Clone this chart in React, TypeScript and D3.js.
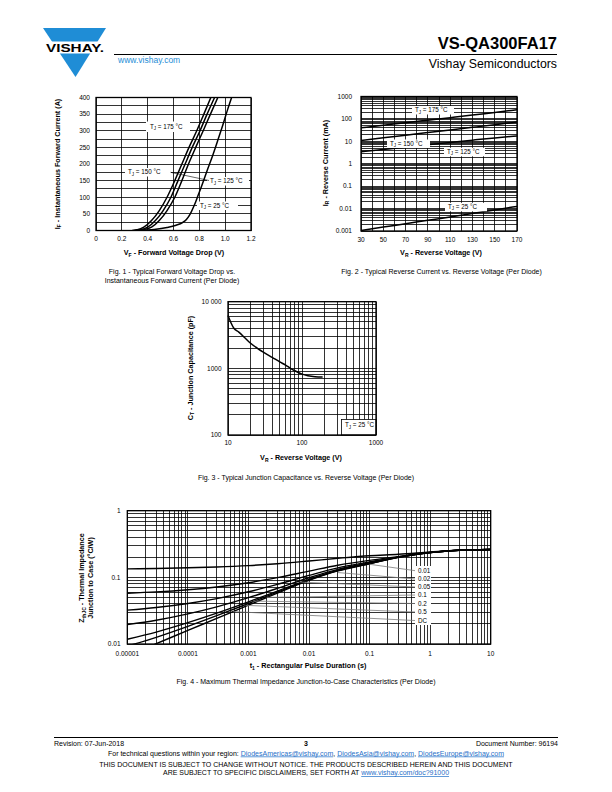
import React from "react";
import * as d3 from "d3";

const F = "'Liberation Sans', Arial, Helvetica, sans-serif";
const BLUE = "#1f8dd6";

// ---------- Fig. 1 data (forward characteristics) ----------
const fig1Current = [0, 2, 10, 30, 60, 100, 150, 200, 250, 300, 350, 400];
const fig1Vf175 = [0.28, 0.32, 0.37, 0.43, 0.49, 0.55, 0.61, 0.665, 0.72, 0.78, 0.835, 0.889];
const fig1Vf150 = [0.3, 0.34, 0.4, 0.46, 0.52, 0.58, 0.635, 0.69, 0.745, 0.805, 0.86, 0.918];
const fig1Vf125 = [0.31, 0.36, 0.43, 0.49, 0.55, 0.61, 0.665, 0.716, 0.772, 0.83, 0.886, 0.943];
const fig1Vf25 = [0.33, 0.45, 0.55, 0.62, 0.67, 0.7, 0.73, 0.76, 0.79, 0.82, 0.86, 0.9, 0.94, 0.98, 1.02, 1.05];
const fig1If25 = [0, 3, 9, 16, 24, 33, 50, 75, 105, 136, 180, 222, 268, 315, 365, 400];
const fig1XTicks = [0, 0.2, 0.4, 0.6, 0.8, 1.0, 1.2];
const fig1XLabels = ["0", "0.2", "0.4", "0.6", "0.8", "1.0", "1.2"];
const fig1YTicks = [0, 50, 100, 150, 200, 250, 300, 350, 400];

// ---------- Fig. 2 data (reverse current) ----------
const fig2Vr = [30, 50, 70, 90, 110, 130, 150, 170];
const fig2Ir175 = [40, 52, 68, 88, 114, 148, 195, 255];
const fig2Ir150 = [11, 14.3, 18.8, 24.5, 32, 42, 55, 72];
const fig2Ir125 = [3.4, 4.3, 5.5, 7.0, 8.9, 11.3, 14.2, 17.5];
const fig2Ir25 = [0.00105, 0.0015, 0.0021, 0.003, 0.0042, 0.006, 0.0087, 0.0125];
const fig2XTicks = [30, 50, 70, 90, 110, 130, 150, 170];
const fig2YTicks = [0.001, 0.01, 0.1, 1, 10, 100, 1000];
const fig2YLabels = ["0.001", "0.01", "0.1", "1", "10", "100", "1000"];

// ---------- Fig. 3 data (junction capacitance) ----------
const fig3Vr = [10, 11, 12, 14, 17, 20, 25, 30, 40, 50, 60, 70, 80, 100, 120, 150, 190];
const fig3Ct = [6200, 4800, 4000, 3500, 2850, 2400, 2000, 1750, 1450, 1250, 1120, 1000, 920, 820, 775, 748, 740];
const fig3XTicks = [10, 100, 1000];
const fig3XLabels = ["10", "100", "1000"];
const fig3YTicks = [100, 1000, 10000];
const fig3YLabels = ["100", "1000", "10 000"];

// ---------- Fig. 4 data (thermal impedance) ----------
const fig4T = [1e-5, 3e-5, 1e-4, 3e-4, 1e-3, 3e-3, 1e-2, 3e-2, 0.1, 0.3, 1, 3, 10];
const fig4D050 = [0.134, 0.136, 0.139, 0.143, 0.15, 0.16, 0.176, 0.193, 0.211, 0.222, 0.24, 0.256, 0.262];
const fig4D020 = [0.0578, 0.0605, 0.0652, 0.0718, 0.083, 0.099, 0.124, 0.152, 0.18, 0.205, 0.237, 0.256, 0.262];
const fig4D010 = [0.0322, 0.0353, 0.0406, 0.048, 0.0607, 0.0784, 0.107, 0.139, 0.17, 0.203, 0.236, 0.255, 0.262];
const fig4D005 = [0.0195, 0.0227, 0.0283, 0.0361, 0.0495, 0.0682, 0.0986, 0.132, 0.165, 0.201, 0.236, 0.255, 0.262];
const fig4D002 = [0.0118, 0.0151, 0.0209, 0.029, 0.0428, 0.0621, 0.0934, 0.128, 0.162, 0.201, 0.235, 0.255, 0.262];
const fig4D001 = [0.0093, 0.0126, 0.0184, 0.0266, 0.0405, 0.06, 0.0917, 0.126, 0.161, 0.2, 0.235, 0.255, 0.262];
const fig4DC = [0.0067, 0.0101, 0.016, 0.0242, 0.0383, 0.058, 0.09, 0.125, 0.16, 0.2, 0.235, 0.255, 0.262];
const fig4Labels = ["0.01", "0.02", "0.05", "0.1", "0.2", "0.5", "DC"];
const fig4LabelZ = [0.126, 0.0945, 0.0717, 0.0543, 0.0405, 0.0302, 0.0225];
const fig4LeaderT = [0.1, 0.03, 0.007, 0.002, 0.0012, 0.0009, 0.00056];
const fig4LeaderZ = [0.157, 0.118, 0.085, 0.05, 0.044, 0.038, 0.0306];
const fig4XTicks = [1e-5, 1e-4, 1e-3, 1e-2, 0.1, 1, 10];
const fig4XLabels = ["0.00001", "0.0001", "0.001", "0.01", "0.1", "1", "10"];
const fig4YTicks = [0.01, 0.1, 1];
const fig4YLabels = ["0.01", "0.1", "1"];

type Pt = [number, number];
const zip = (a: number[], b: number[]): Pt[] => a.map((v, i) => [v, b[i]] as Pt);

const GRID = 0.8;
const FRAME = 1.3;
const CURVE = 1.5;
const TICK = 6.5;

function TJ({ x, y, t }: { x: number; y: number; t: string }) {
  return (
    <text x={x} y={y} fontSize={6.3} fontFamily={F}>
      T<tspan fontSize={4.5} dy={1.4}>J</tspan>
      <tspan dy={-1.4}>{` = ${t} °C`}</tspan>
    </text>
  );
}

function GridH({ vals, y, x0, x1 }: { vals: number[]; y: (v: number) => number; x0: number; x1: number }) {
  return (
    <g shapeRendering="crispEdges">
      {vals.map((v, i) => (
        <line key={"h" + i} x1={x0} x2={x1} y1={y(v)} y2={y(v)} stroke="#000" strokeWidth={GRID} />
      ))}
    </g>
  );
}

function GridV({ vals, x, y0, y1 }: { vals: number[]; x: (v: number) => number; y0: number; y1: number }) {
  return (
    <g shapeRendering="crispEdges">
      {vals.map((v, i) => (
        <line key={"v" + i} x1={x(v)} x2={x(v)} y1={y0} y2={y1} stroke="#000" strokeWidth={GRID} />
      ))}
    </g>
  );
}

function Fig1() {
  const X0 = 96, X1 = 251, Y0 = 97.5, Y1 = 230.5;
  const x = d3.scaleLinear().domain([0, 1.2]).range([X0, X1]);
  const y = d3.scaleLinear().domain([0, 400]).range([Y1, Y0]);
  const line = d3.line<Pt>().x((d) => x(d[0])).y((d) => y(d[1])).curve(d3.curveMonotoneX);
  const hGrid = d3.range(0, 401, 25);
  const series = [
    zip(fig1Vf175, fig1Current),
    zip(fig1Vf150, fig1Current),
    zip(fig1Vf125, fig1Current),
    zip(fig1Vf25, fig1If25),
  ];
  return (
    <g>
      <defs>
        <clipPath id="clip1">
          <rect x={X0} y={Y0} width={X1 - X0} height={Y1 - Y0} />
        </clipPath>
      </defs>
      <GridH vals={hGrid} y={y} x0={X0} x1={X1} />
      <GridV vals={fig1XTicks} x={x} y0={Y0} y1={Y1} />
      <rect x={146} y={121.5} width={44} height={10.5} fill="#fff" />
      <rect x={125} y={168} width={46} height={8.5} fill="#fff" />
      <rect x={207} y={177} width={42} height={8.5} fill="#fff" />
      <rect x={197} y={201.5} width={41} height={8.5} fill="#fff" />
      <g clipPath="url(#clip1)">
        {series.map((s, i) => (
          <path key={i} d={line(s) || ""} fill="none" stroke="#000" strokeWidth={CURVE} />
        ))}
      </g>
      <line x1={170.5} y1={172.3} x2={209} y2={180.5} stroke="#000" strokeWidth={0.6} />
      <TJ x={150} y={129} t="175" />
      <TJ x={128} y={174.2} t="150" />
      <TJ x={210} y={183.3} t="125" />
      <TJ x={200} y={207.8} t="25" />
      <rect x={X0} y={Y0} width={X1 - X0} height={Y1 - Y0} fill="none" stroke="#000" strokeWidth={FRAME} />
      {fig1YTicks.map((v) => (
        <text key={"yl" + v} x={90} y={y(v) + 2.3} fontSize={TICK} fontFamily={F} textAnchor="end">
          {v}
        </text>
      ))}
      {fig1XTicks.map((v, i) => (
        <text key={"xl" + v} x={x(v)} y={240.5} fontSize={TICK} fontFamily={F} textAnchor="middle">
          {fig1XLabels[i]}
        </text>
      ))}
      <text x={174} y={255} fontSize={7.2} fontWeight="bold" fontFamily={F} textAnchor="middle">
        V<tspan fontSize={5} dy={1.5}>F</tspan>
        <tspan dy={-1.5}> - Forward Voltage Drop (V)</tspan>
      </text>
      <text transform="translate(59.5,164) rotate(-90)" fontSize={7.2} fontWeight="bold" fontFamily={F} textAnchor="middle">
        I<tspan fontSize={5} dy={1.5}>F</tspan>
        <tspan dy={-1.5}> - Instantaneous Forward Current (A)</tspan>
      </text>
      <text x={172} y={274} fontSize={7} fontFamily={F} textAnchor="middle">
        Fig. 1 - Typical Forward Voltage Drop vs.
      </text>
      <text x={172} y={283} fontSize={7} fontFamily={F} textAnchor="middle">
        Instantaneous Forward Current (Per Diode)
      </text>
    </g>
  );
}

function Fig2() {
  const X0 = 361, X1 = 517, Y0 = 96.5, Y1 = 231;
  const x = d3.scaleLinear().domain([30, 170]).range([X0, X1]);
  const y = d3.scaleLog().domain([0.001, 1000]).range([Y1, Y0]);
  const line = d3.line<Pt>().x((d) => x(d[0])).y((d) => y(d[1])).curve(d3.curveMonotoneX);
  const vGrid = d3.range(30, 171, 10);
  const hGrid = y.ticks();
  const series = [zip(fig2Vr, fig2Ir175), zip(fig2Vr, fig2Ir150), zip(fig2Vr, fig2Ir125), zip(fig2Vr, fig2Ir25)];
  return (
    <g>
      <defs>
        <clipPath id="clip2">
          <rect x={X0} y={Y0} width={X1 - X0} height={Y1 - Y0} />
        </clipPath>
      </defs>
      <GridH vals={hGrid} y={y} x0={X0} x1={X1} />
      <GridV vals={vGrid} x={x} y0={Y0} y1={Y1} />
      <g clipPath="url(#clip2)">
        {series.map((s, i) => (
          <path key={i} d={line(s) || ""} fill="none" stroke="#000" strokeWidth={CURVE} />
        ))}
      </g>
      <rect x={412} y={106} width={42} height={8.5} fill="#fff" />
      <rect x={387} y={139.5} width={43} height={8.5} fill="#fff" />
      <rect x={444} y={147.8} width={41} height={8.5} fill="#fff" />
      <rect x={445} y={202.8} width={42} height={8.5} fill="#fff" />
      <TJ x={415} y={112.3} t="175" />
      <TJ x={390} y={145.8} t="150" />
      <TJ x={447} y={154} t="125" />
      <TJ x={448} y={209} t="25" />
      <rect x={X0} y={Y0} width={X1 - X0} height={Y1 - Y0} fill="none" stroke="#000" strokeWidth={FRAME} />
      {fig2YTicks.map((v, i) => (
        <text key={"yl" + i} x={352} y={y(v) + 2.3} fontSize={TICK} fontFamily={F} textAnchor="end">
          {fig2YLabels[i]}
        </text>
      ))}
      {fig2XTicks.map((v) => (
        <text key={"xl" + v} x={x(v)} y={242} fontSize={TICK} fontFamily={F} textAnchor="middle">
          {v}
        </text>
      ))}
      <text x={441} y={255} fontSize={7.2} fontWeight="bold" fontFamily={F} textAnchor="middle">
        V<tspan fontSize={5} dy={1.5}>R</tspan>
        <tspan dy={-1.5}> - Reverse Voltage (V)</tspan>
      </text>
      <text transform="translate(327.5,163) rotate(-90)" fontSize={7.2} fontWeight="bold" fontFamily={F} textAnchor="middle">
        I<tspan fontSize={5} dy={1.5}>R</tspan>
        <tspan dy={-1.5}> - Reverse Current (mA)</tspan>
      </text>
      <text x={441.5} y={273.5} fontSize={7} fontFamily={F} textAnchor="middle">
        Fig. 2 - Typical Reverse Current vs. Reverse Voltage (Per Diode)
      </text>
    </g>
  );
}

function Fig3() {
  const X0 = 228, X1 = 376, Y0 = 301.7, Y1 = 435;
  const x = d3.scaleLog().domain([10, 1000]).range([X0, X1]);
  const y = d3.scaleLog().domain([100, 10000]).range([Y1, Y0]);
  const line = d3.line<Pt>().x((d) => x(d[0])).y((d) => y(d[1])).curve(d3.curveMonotoneX);
  const vGrid = x.ticks();
  const hGrid = y.ticks();
  return (
    <g>
      <GridH vals={hGrid} y={y} x0={X0} x1={X1} />
      <GridV vals={vGrid} x={x} y0={Y0} y1={Y1} />
      <path d={line(zip(fig3Vr, fig3Ct)) || ""} fill="none" stroke="#000" strokeWidth={CURVE} />
      <rect x={341.5} y={419.5} width={34.5} height={15.5} fill="#fff" stroke="#000" strokeWidth={0.8} />
      <TJ x={345} y={427.3} t="25" />
      <rect x={X0} y={Y0} width={X1 - X0} height={Y1 - Y0} fill="none" stroke="#000" strokeWidth={FRAME} />
      {fig3YTicks.map((v, i) => (
        <text key={"yl" + i} x={221.5} y={y(v) + 2.3} fontSize={TICK} fontFamily={F} textAnchor="end">
          {fig3YLabels[i]}
        </text>
      ))}
      {fig3XTicks.map((v, i) => (
        <text key={"xl" + i} x={x(v)} y={444.5} fontSize={TICK} fontFamily={F} textAnchor="middle">
          {fig3XLabels[i]}
        </text>
      ))}
      <text x={301} y={460} fontSize={7.2} fontWeight="bold" fontFamily={F} textAnchor="middle">
        V<tspan fontSize={5} dy={1.5}>R</tspan>
        <tspan dy={-1.5}> - Reverse Voltage (V)</tspan>
      </text>
      <text transform="translate(192.5,368) rotate(-90)" fontSize={7.2} fontWeight="bold" fontFamily={F} textAnchor="middle">
        C<tspan fontSize={5} dy={1.5}>T</tspan>
        <tspan dy={-1.5}> - Junction Capacitance (pF)</tspan>
      </text>
      <text x={306} y={479.5} fontSize={7} fontFamily={F} textAnchor="middle">
        Fig. 3 - Typical Junction Capacitance vs. Reverse Voltage (Per Diode)
      </text>
    </g>
  );
}

function Fig4() {
  const X0 = 127.3, X1 = 490.7, Y0 = 510.7, Y1 = 644;
  const x = d3.scaleLog().domain([1e-5, 10]).range([X0, X1]);
  const y = d3.scaleLog().domain([0.01, 1]).range([Y1, Y0]);
  const line = d3.line<Pt>().x((d) => x(d[0])).y((d) => y(d[1])).curve(d3.curveMonotoneX);
  const vGrid = x.ticks();
  const hGrid = y.ticks();
  const series = [fig4D050, fig4D020, fig4D010, fig4D005, fig4D002, fig4D001, fig4DC].map((s) => zip(fig4T, s));
  const labelX = 418;
  return (
    <g>
      <defs>
        <clipPath id="clip4">
          <rect x={X0} y={Y0} width={X1 - X0} height={Y1 - Y0} />
        </clipPath>
      </defs>
      <GridH vals={hGrid} y={y} x0={X0} x1={X1} />
      <GridV vals={vGrid} x={x} y0={Y0} y1={Y1} />
      <g clipPath="url(#clip4)">
        {series.map((s, i) => (
          <path key={i} d={line(s) || ""} fill="none" stroke="#000" strokeWidth={1.4} />
        ))}
      </g>
      {fig4Labels.map((l, i) => (
        <line
          key={"ld" + i}
          x1={x(fig4LeaderT[i])}
          y1={y(fig4LeaderZ[i])}
          x2={labelX - 3}
          y2={y(fig4LabelZ[i])}
          stroke="#7a7a7a"
          strokeWidth={0.8}
        />
      ))}
      <rect x={labelX - 3} y={566} width={16} height={59} fill="#fff" />
      {fig4Labels.map((l, i) => (
        <text key={"lb" + i} x={labelX} y={y(fig4LabelZ[i]) + 2.3} fontSize={6.3} fontFamily={F}>
          {l}
        </text>
      ))}
      <rect x={X0} y={Y0} width={X1 - X0} height={Y1 - Y0} fill="none" stroke="#000" strokeWidth={FRAME} />
      {fig4YTicks.map((v, i) => (
        <text key={"yl" + i} x={120.5} y={y(v) + 2.3} fontSize={TICK} fontFamily={F} textAnchor="end">
          {fig4YLabels[i]}
        </text>
      ))}
      {fig4XTicks.map((v, i) => (
        <text key={"xl" + i} x={x(v)} y={655.5} fontSize={TICK} fontFamily={F} textAnchor="middle">
          {fig4XLabels[i]}
        </text>
      ))}
      <text x={308} y={668} fontSize={7.2} fontWeight="bold" fontFamily={F} textAnchor="middle">
        t<tspan fontSize={5} dy={1.5}>1</tspan>
        <tspan dy={-1.5}> - Rectangular Pulse Duration (s)</tspan>
      </text>
      <text transform="translate(84,578) rotate(-90)" fontSize={7.2} fontWeight="bold" fontFamily={F} textAnchor="middle">
        Z<tspan fontSize={5} dy={1.5}>thJC</tspan>
        <tspan dy={-1.5}> - Thermal Impedance</tspan>
      </text>
      <text transform="translate(92.5,578) rotate(-90)" fontSize={7.2} fontWeight="bold" fontFamily={F} textAnchor="middle">
        Junction to Case (°C/W)
      </text>
      <text x={306} y={684} fontSize={7} fontFamily={F} textAnchor="middle">
        Fig. 4 - Maximum Thermal Impedance Junction-to-Case Characteristics (Per Diode)
      </text>
    </g>
  );
}

function Header() {
  return (
    <g>
      <polygon points="43,28 106,28 75.5,77" fill={BLUE} />
      <rect x={40} y={41.5} width={72} height={12} fill="#fff" />
      <text x={46} y={52.3} fontSize={11.5} fontWeight="bold" fontFamily={F} textLength={58} lengthAdjust="spacingAndGlyphs">
        VISHAY.
      </text>
      <text x={557} y={49} fontSize={16.5} fontWeight="bold" fontFamily={F} textAnchor="end">
        VS-QA300FA17
      </text>
      <line x1={114} x2={557} y1={54.5} y2={54.5} stroke="#000" strokeWidth={1} />
      <text x={118} y={62.5} fontSize={8.5} fontFamily={F} fill={BLUE}>
        www.vishay.com
      </text>
      <text x={557} y={68} fontSize={12.3} fontFamily={F} textAnchor="end">
        Vishay Semiconductors
      </text>
    </g>
  );
}

function Footer() {
  const link = { fill: "#1f6fc8", textDecoration: "underline" } as React.CSSProperties;
  return (
    <g fontFamily={F} fontSize={7}>
      <line x1={54} x2={558} y1={737.5} y2={737.5} stroke="#000" strokeWidth={1} />
      <text x={54} y={745.5}>Revision: 07-Jun-2018</text>
      <text x={306} y={746} textAnchor="middle" fontWeight="bold">
        3
      </text>
      <text x={558} y={745.5} textAnchor="end">
        Document Number: 96194
      </text>
      <text x={306} y={755.5} textAnchor="middle">
        For technical questions within your region: <tspan style={link}>DiodesAmericas@vishay.com</tspan>,{" "}
        <tspan style={link}>DiodesAsia@vishay.com</tspan>, <tspan style={link}>DiodesEurope@vishay.com</tspan>
      </text>
      <text x={306} y={766.5} textAnchor="middle">
        THIS DOCUMENT IS SUBJECT TO CHANGE WITHOUT NOTICE. THE PRODUCTS DESCRIBED HEREIN AND THIS DOCUMENT
      </text>
      <text x={306} y={775} textAnchor="middle">
        ARE SUBJECT TO SPECIFIC DISCLAIMERS, SET FORTH AT <tspan style={link}>www.vishay.com/doc?91000</tspan>
      </text>
    </g>
  );
}

export default function App() {
  return (
    <svg
      width={612}
      height={792}
      viewBox="0 0 612 792"
      style={{ position: "absolute", left: 0, top: 0, background: "#fff" }}
    >
      <rect x={0} y={0} width={612} height={792} fill="#fff" />
      <Header />
      <Fig1 />
      <Fig2 />
      <Fig3 />
      <Fig4 />
      <Footer />
    </svg>
  );
}
